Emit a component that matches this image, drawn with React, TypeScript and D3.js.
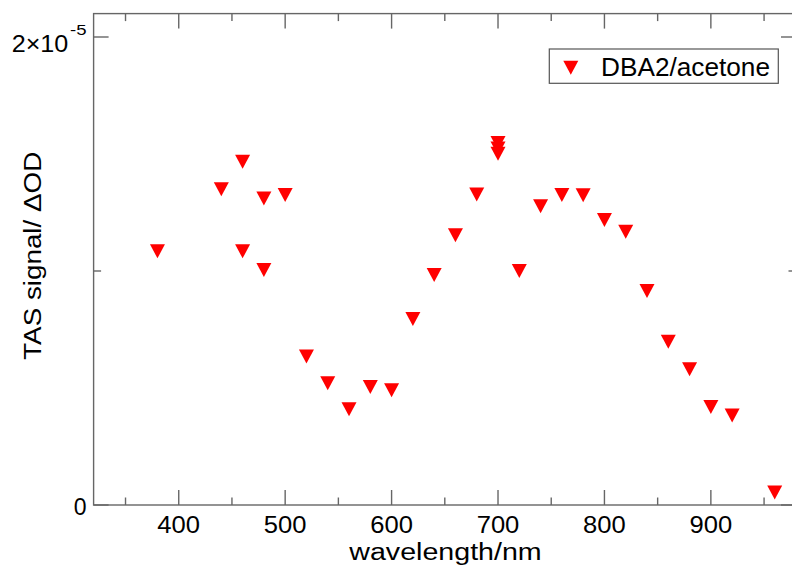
import React from "react";
import * as d3 from "d3";

const wavelengths = [380, 440, 460, 460, 480, 480, 500, 520, 540, 560, 580, 600, 620, 640, 660, 680, 700, 700, 700, 720, 740, 760, 780, 800, 820, 840, 860, 880, 900, 920, 960];
const signalE6 = [10.84, 13.49, 14.67, 10.84, 13.1, 10.04, 13.25, 6.35, 5.2, 4.09, 5.04, 4.9, 7.95, 9.83, 11.53, 13.27, 15.47, 15.23, 15.01, 10.0, 12.77, 13.25, 13.24, 12.18, 11.68, 9.15, 6.98, 5.8, 4.19, 3.83, 0.53];
const xMajorTicks = [400, 500, 600, 700, 800, 900];
const xMinorTicks = [350, 450, 550, 650, 750, 850, 950];
const yMajorTicks = [0, 2e-5];
const yMinorTicks = [1e-5];
const seriesName = "DBA2/acetone";
const xTitle = "wavelength/nm";
const yTitle = "TAS signal/ \u0394OD";

const W = 792;
const H = 567;
const L = 93.6, R = 796, T = 13.6, B = 505;

export default function App() {
  const x = d3.scaleLinear().domain([320, 980]).range([L, R]);
  const y = d3.scaleLinear().domain([0, 2.1e-5]).range([B, T]);
  const axisColor = "#666";
  const font = "'Liberation Sans', Arial, Helvetica, sans-serif";
  const tri = (cx: number, cy: number) =>
    `M${cx - 7.5},${cy - 7}L${cx + 7.5},${cy - 7}L${cx},${cy + 7}Z`;

  return (
    <svg
      width={W}
      height={H}
      style={{ position: "absolute", left: 0, top: 0, background: "#fff" }}
      fontFamily={font}
    >
      <rect x={0} y={0} width={W} height={H} fill="#fff" />
      {/* frame */}
      <rect x={L} y={T} width={R - L} height={B - T} fill="none" stroke={axisColor} strokeWidth={1.4} />
      {/* x ticks bottom & top */}
      {xMajorTicks.map((t) => (
        <g key={"xM" + t}>
          <line x1={x(t)} x2={x(t)} y1={B} y2={B - 15} stroke={axisColor} strokeWidth={1.4} />
          <line x1={x(t)} x2={x(t)} y1={T} y2={T + 15} stroke={axisColor} strokeWidth={1.4} />
          <text x={x(t)} y={533.3} fontSize={23} textAnchor="middle" fill="#000" textLength={42.7} lengthAdjust="spacingAndGlyphs">
            {String(t)}
          </text>
        </g>
      ))}
      {xMinorTicks.map((t) => (
        <g key={"xm" + t}>
          <line x1={x(t)} x2={x(t)} y1={B} y2={B - 7.5} stroke={axisColor} strokeWidth={1.4} />
          <line x1={x(t)} x2={x(t)} y1={T} y2={T + 7.5} stroke={axisColor} strokeWidth={1.4} />
        </g>
      ))}
      {/* y ticks left & right */}
      {yMajorTicks.map((t) => (
        <g key={"yM" + t}>
          <line x1={L} x2={L + 15} y1={y(t)} y2={y(t)} stroke={axisColor} strokeWidth={1.4} />
          <line x1={R} x2={R - 15} y1={y(t)} y2={y(t)} stroke={axisColor} strokeWidth={1.4} />
        </g>
      ))}
      {yMinorTicks.map((t) => (
        <g key={"ym" + t}>
          <line x1={L} x2={L + 7.5} y1={y(t)} y2={y(t)} stroke={axisColor} strokeWidth={1.4} />
          <line x1={R} x2={R - 7.5} y1={y(t)} y2={y(t)} stroke={axisColor} strokeWidth={1.4} />
        </g>
      ))}
      <text x={86.5} y={y(0) + 10} fontSize={23} textAnchor="end" fill="#000">0</text>
      <text x={11.7} y={y(2e-5) + 15.3} fontSize={23} fill="#000" textLength={56.6} lengthAdjust="spacingAndGlyphs">
        2×10
      </text>
      <text x={70} y={y(2e-5) - 2} fontSize={14} fill="#000" textLength={16.5} lengthAdjust="spacingAndGlyphs">
        -5
      </text>
      {/* titles */}
      <text x={445.5} y={560} fontSize={23.5} textAnchor="middle" fill="#000" textLength={192.4} lengthAdjust="spacingAndGlyphs">
        {xTitle}
      </text>
      <text
        transform={`translate(41,255.8) rotate(-90)`}
        fontSize={23}
        textAnchor="middle"
        fill="#000"
        textLength={208}
        lengthAdjust="spacingAndGlyphs"
      >
        {yTitle}
      </text>
      {/* data */}
      {wavelengths.map((w, i) => (
        <path key={"p" + i} d={tri(x(w), y(signalE6[i] * 1e-6))} fill="#ff0000" />
      ))}
      {/* legend */}
      <rect x={549.3} y={49} width={229} height={34.3} fill="#fff" stroke="#555" strokeWidth={1.2} />
      <path d={tri(570.8, 67.8)} fill="#ff0000" />
      <text x={601} y={75.5} fontSize={25} fill="#000" textLength={169} lengthAdjust="spacingAndGlyphs">
        {seriesName}
      </text>
    </svg>
  );
}
